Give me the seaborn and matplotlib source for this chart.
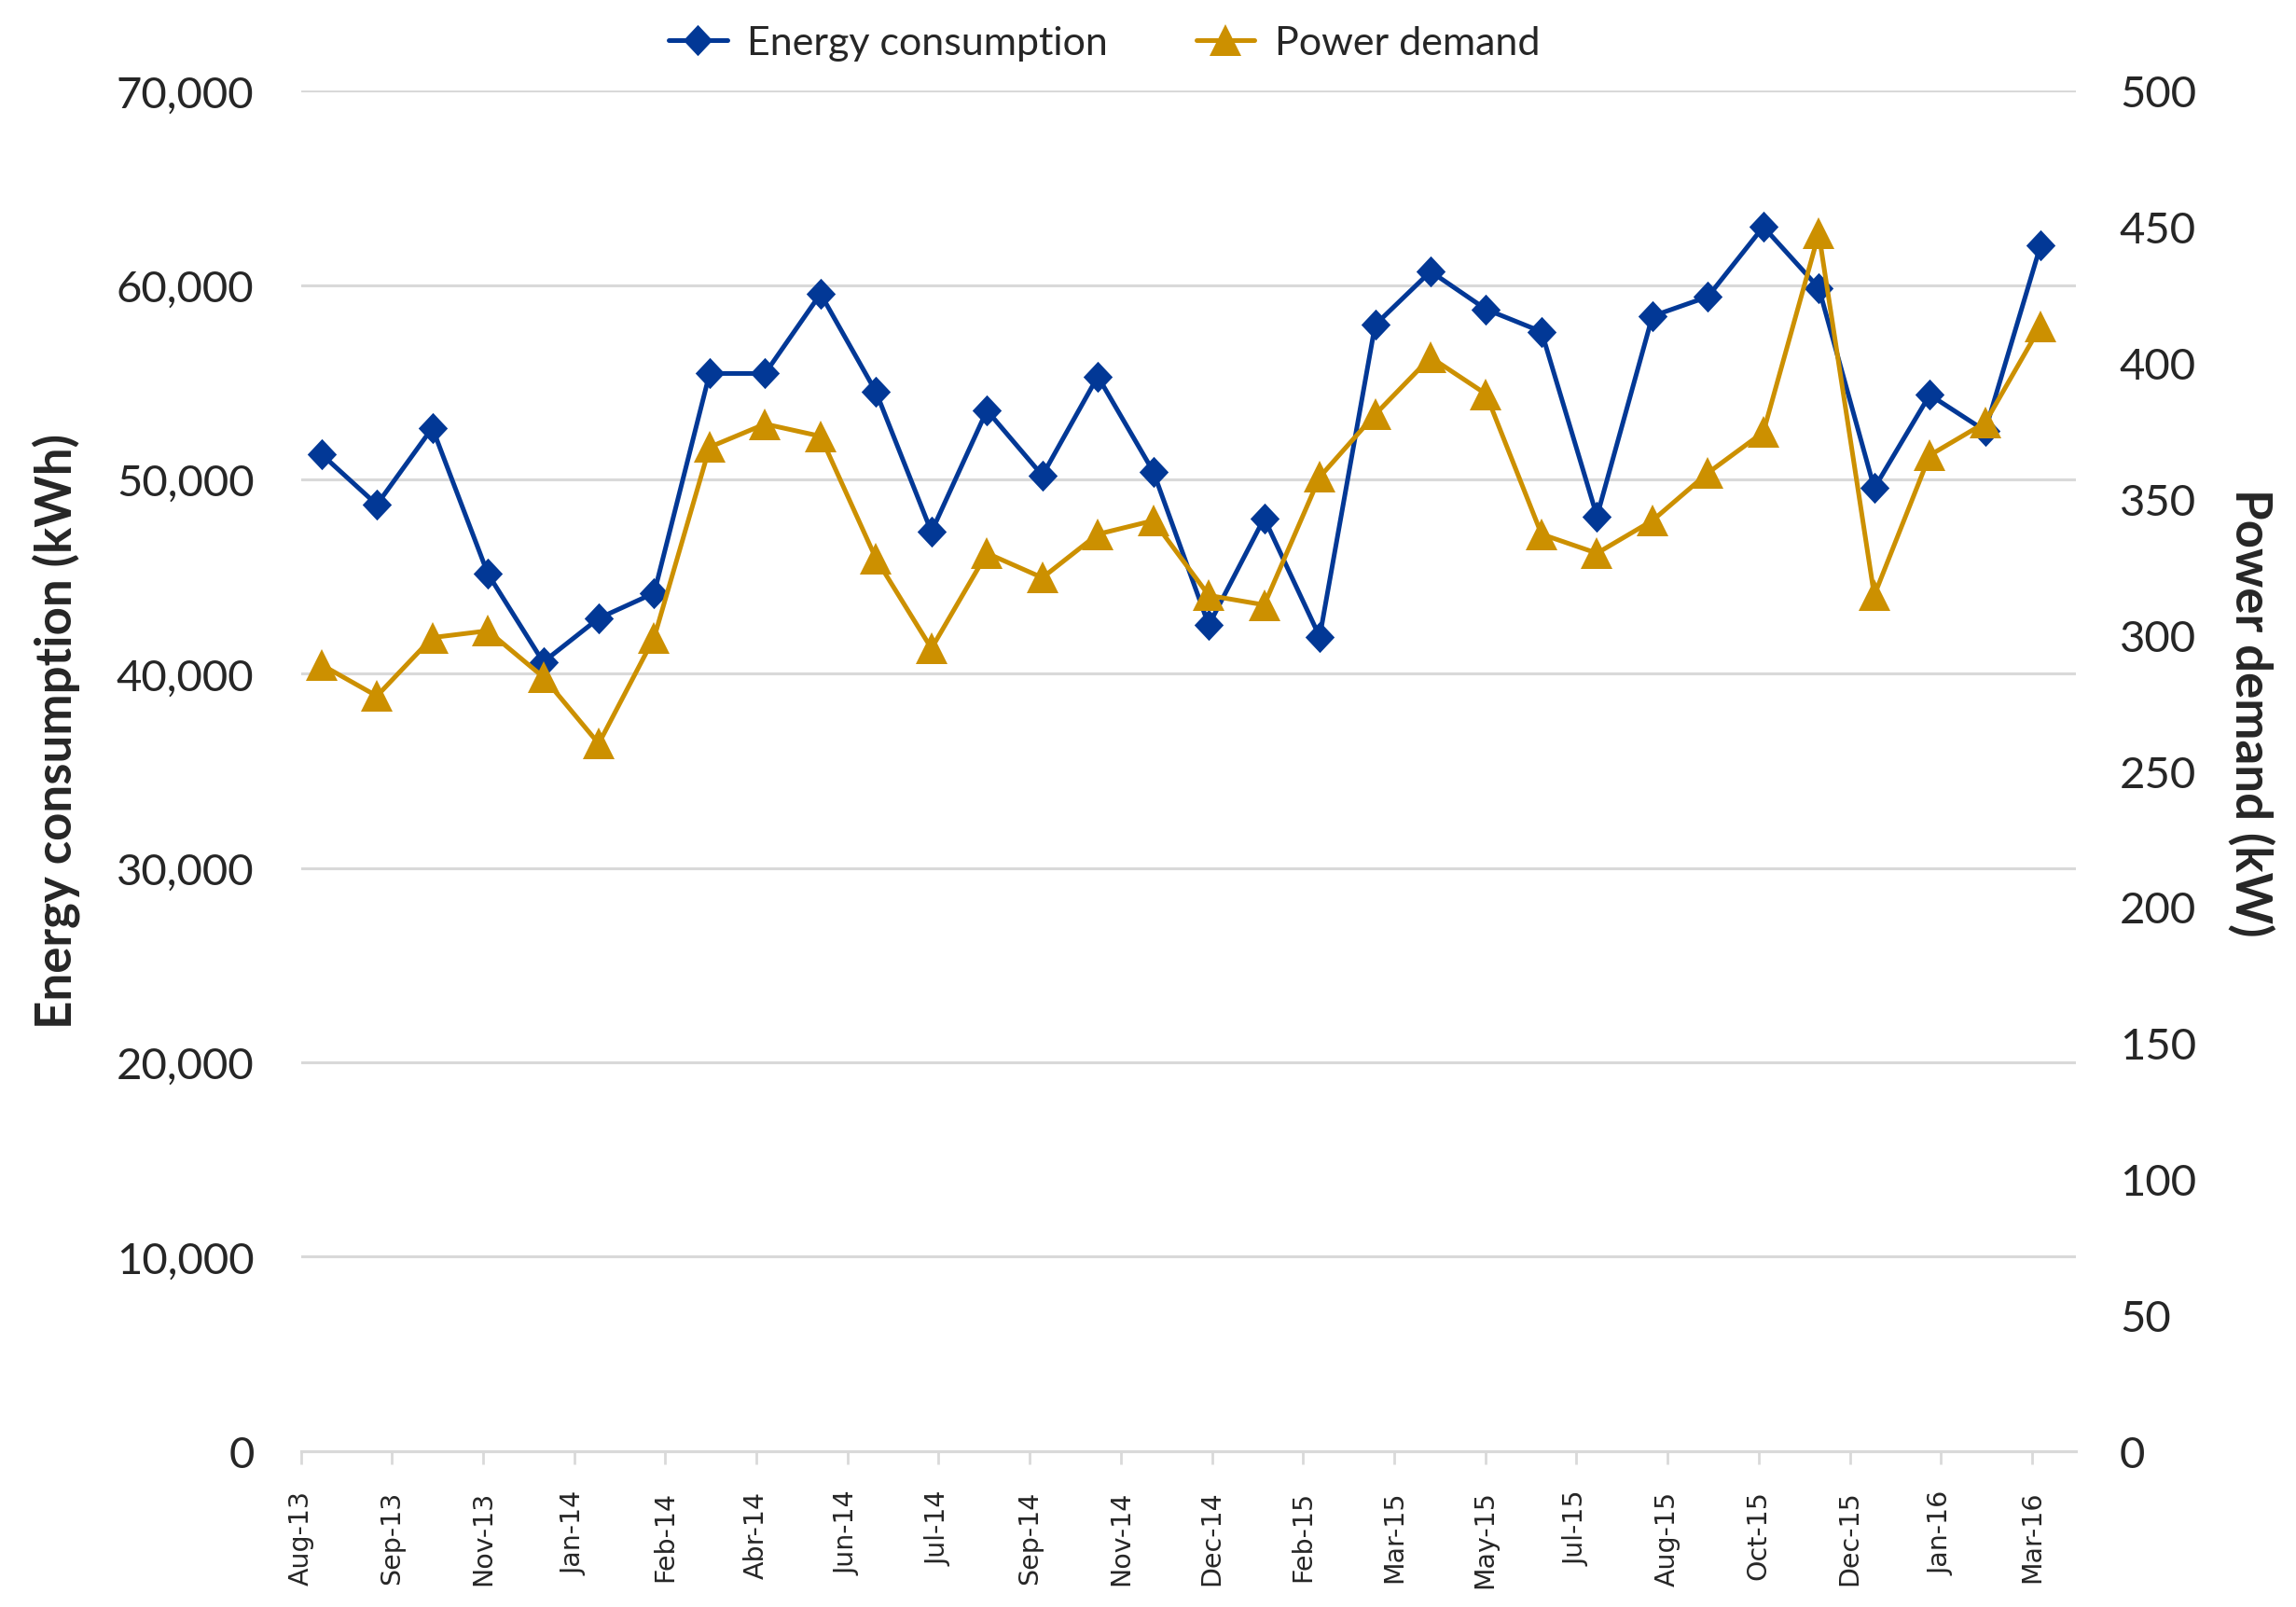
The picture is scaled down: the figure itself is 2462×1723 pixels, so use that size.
import numpy as np
import pandas as pd
import matplotlib
matplotlib.use("Agg")
import matplotlib.pyplot as plt
import seaborn as sns
from matplotlib.ticker import FuncFormatter, MultipleLocator

# monthly readings, Aug-13 .. Mar-16 (32 months)
months = list(range(32))
energy_kwh = [51300, 48700, 52650, 45150, 40600, 42850, 44150, 55450, 55450, 59550,
              54500, 47300, 53550, 50200, 55300, 50400, 42500, 48000, 41900, 57950,
              60700, 58750, 57600, 48100, 58400, 59400, 63000, 59850, 49550, 54350,
              52500, 62050]
power_kw = [289, 277.5, 299, 301.5, 284.5, 260, 299, 369, 377.5, 373,
            328, 295, 330, 321, 337, 342, 314.5, 311, 358, 381,
            402, 388.5, 337, 330, 342, 359.5, 374.5, 447.5, 314.5, 366,
            378, 413.5]
tick_labels = ["Aug-13", "Sep-13", "Nov-13", "Jan-14", "Feb-14", "Abr-14", "Jun-14",
               "Jul-14", "Sep-14", "Nov-14", "Dec-14", "Feb-15", "Mar-15", "May-15",
               "Jul-15", "Aug-15", "Oct-15", "Dec-15", "Jan-16", "Mar-16"]

df = pd.DataFrame({"month": months, "energy": energy_kwh, "power": power_kw})

sns.set_theme(style="white")
plt.rcParams["font.family"] = ["Lato", "DejaVu Sans"]

blue = "#023896"
gold = "#CC9000"
grid_c = "#D9D9D9"

# Excel-like diamond, a bit taller than wide
diamond = [(0, 1), (0.94, 0), (0, -1), (-0.94, 0), (0, 1)]

fig, ax = plt.subplots(figsize=(24.62, 17.24), dpi=100)
fig.subplots_adjust(left=0.131, right=0.904, top=0.943, bottom=0.097)
ax2 = ax.twinx()

sns.lineplot(data=df, x="month", y="energy", ax=ax, color=blue, lw=3.6,
             marker=diamond, markersize=24, markeredgewidth=0, label="Energy consumption")
sns.lineplot(data=df, x="month", y="power", ax=ax2, color=gold, lw=3.6,
             marker="^", markersize=24, markeredgewidth=0, label="Power demand")

# axis ranges
ax.set_ylim(0, 70000)
ax2.set_ylim(0, 500)
ax.set_xlim(-0.372, 31.63)

# x ticks every ~50 days on the original date axis
step = 1.643
ax.set_xticks([-0.372 + k * step for k in range(len(tick_labels))])
ax.set_xticklabels(tick_labels, rotation=90, fontsize=20.5, family="DejaVu Sans")
ax.tick_params(axis="x", length=10, width=2, color=grid_c, direction="out", pad=20,
               bottom=True)

ax.yaxis.set_major_locator(MultipleLocator(10000))
ax.yaxis.set_major_formatter(FuncFormatter(lambda v, p: f"{v:,.0f}"))
ax2.yaxis.set_major_locator(MultipleLocator(50))
ax2.yaxis.set_major_formatter(FuncFormatter(lambda v, p: f"{v:.0f}"))
ax.tick_params(axis="y", length=0, labelsize=34, pad=36)
ax2.tick_params(axis="y", length=0, labelsize=34, pad=34)

ax.yaxis.grid(True, color=grid_c, lw=2.2)
ax.xaxis.grid(False)
ax.set_axisbelow(True)

for a in (ax, ax2):
    for s in ("top", "left", "right"):
        a.spines[s].set_visible(False)
    a.spines["bottom"].set_color(grid_c)
    a.spines["bottom"].set_linewidth(2.2)

ax.set_xlabel("")
ax.set_ylabel("")
ax2.set_ylabel("")
ax.text(-0.138, 0.53, "Energy consumption (kWh)", transform=ax.transAxes, rotation=90,
        ha="center", va="center", fontsize=38, fontweight="bold")
ax2.text(1.099, 0.543, "Power demand (kW)", transform=ax.transAxes, rotation=270,
         ha="center", va="center", fontsize=38, fontweight="bold")

h1, l1 = ax.get_legend_handles_labels()
h2, l2 = ax2.get_legend_handles_labels()
ax.get_legend().remove()
ax2.get_legend().remove()
fig.legend(h1 + h2, l1 + l2, loc="upper center", bbox_to_anchor=(0.481, 1.006), ncol=2,
           frameon=False, fontsize=31, handlelength=1.45, handletextpad=0.5,
           columnspacing=2.2)

plt.savefig("out.png", dpi=100)
